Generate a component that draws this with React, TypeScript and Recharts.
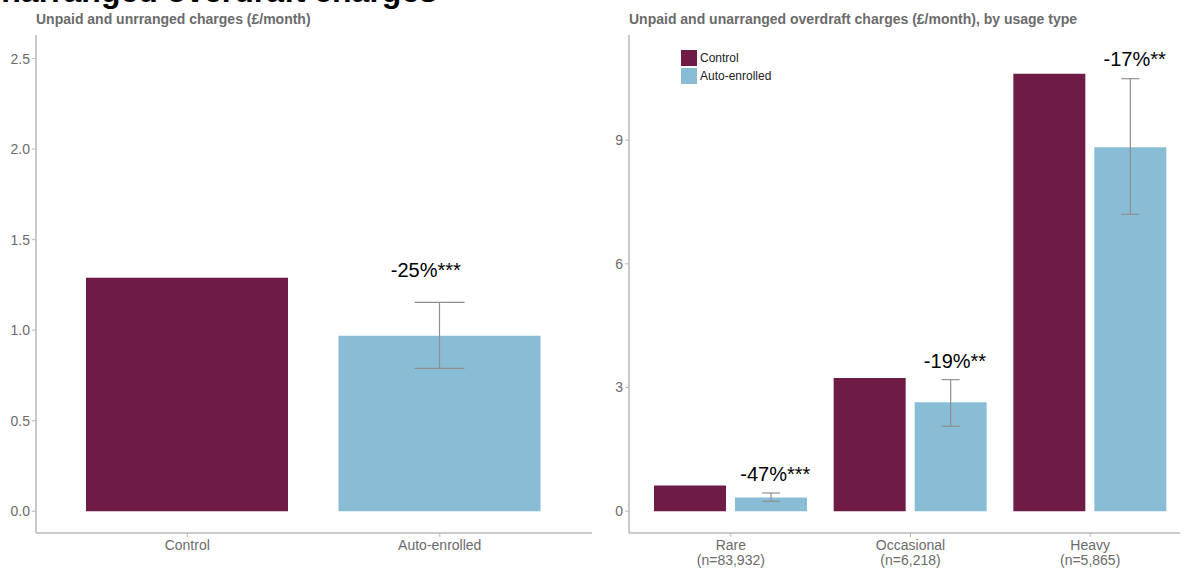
import React from "react";
import { BarChart, Bar, XAxis, YAxis, ErrorBar, Cell, ReferenceDot } from "recharts";

const FONT = '"Liberation Sans", Arial, sans-serif';
const CONTROL = "#6e1b45";
const AUTO = "#89bdd6";
const AXIS = "#b8b8b8";
const TICK_TEXT = "#6b6b6b";
const ERR = "#8f8f8f";

// left panel: all accounts
const groups = ["Control", "Auto-enrolled"];
const groupColors = [CONTROL, AUTO];
const groupCharges = [1.29, 0.969];
const groupLow = [null, 0.789];
const groupHigh = [null, 1.153];
const groupEffect = "-25%***";
const groupEffectY = 1.335;
const leftTicks = [0, 0.5, 1, 1.5, 2, 2.5];

// right panel: by usage type
const usage = ["Rare", "Occasional", "Heavy"];
const usageN = ["(n=83,932)", "(n=6,218)", "(n=5,865)"];
const controlCharges = [0.62, 3.23, 10.61];
const autoCharges = [0.33, 2.64, 8.83];
const autoLow = [0.24, 2.06, 7.2];
const autoHigh = [0.44, 3.19, 10.49];
const usageEffect = ["-47%***", "-19%**", "-17%**"];
const usageEffectY = [0.89, 3.65, 10.96];
const rightTicks = [0, 3, 6, 9];

const leftData = groups.map((g, i) => ({
  name: g,
  value: groupCharges[i],
  err:
    groupLow[i] == null
      ? undefined
      : [groupCharges[i] - (groupLow[i] as number), (groupHigh[i] as number) - groupCharges[i]],
}));

const rightData = usage.map((u, i) => ({
  name: u,
  control: controlCharges[i],
  auto: autoCharges[i],
  err: [autoCharges[i] - autoLow[i], autoHigh[i] - autoCharges[i]],
}));

const tickStyle = { fontSize: 14, fill: TICK_TEXT, fontFamily: FONT };

function GroupTick(props: any) {
  const { x, y, payload } = props;
  return (
    <text x={x} y={y} dy={11} textAnchor="middle" {...tickStyle}>
      {payload.value}
    </text>
  );
}

function UsageTick(props: any) {
  const { x, y, payload } = props;
  const i = usage.indexOf(payload.value);
  return (
    <g>
      <text x={x} y={y} dy={11} textAnchor="middle" {...tickStyle}>
        {payload.value}
      </text>
      <text x={x} y={y} dy={26} textAnchor="middle" {...tickStyle}>
        {usageN[i]}
      </text>
    </g>
  );
}

const effectText = (text: string, dx: number) => (p: any) => (
  <text
    x={p.cx + dx}
    y={p.cy}
    dy="0.35em"
    textAnchor="middle"
    fontSize={20}
    fontFamily={FONT}
    fill="#000"
  >
    {text}
  </text>
);

export default function App() {
  return (
    <div
      style={{
        position: "absolute",
        left: 0,
        top: 0,
        width: 1189,
        height: 568,
        background: "#fff",
        overflow: "hidden",
        fontFamily: FONT,
      }}
    >
      <div style={{ position: "absolute", left: 0, top: 0 }}>
        <BarChart
          width={600}
          height={568}
          data={leftData}
          margin={{ top: 35, right: 8, bottom: 0, left: 0 }}
        >
          <XAxis
            dataKey="name"
            height={35}
            padding={{ left: 25, right: 26 }}
            axisLine={{ stroke: AXIS, strokeWidth: 1.5 }}
            tickLine={{ stroke: AXIS }}
            tickSize={4}
            tick={<GroupTick />}
          />
          <YAxis
            width={36}
            type="number"
            domain={[-0.12, 2.63]}
            allowDataOverflow
            ticks={leftTicks}
            tickFormatter={(v: number) => v.toFixed(1)}
            axisLine={{ stroke: AXIS, strokeWidth: 1.5 }}
            tickLine={{ stroke: AXIS }}
            tickSize={4}
            tick={tickStyle}
          />
          <Bar dataKey="value" barSize={202} isAnimationActive={false}>
            {leftData.map((d, i) => (
              <Cell key={d.name} fill={groupColors[i]} />
            ))}
            <ErrorBar dataKey="err" width={25} stroke={ERR} strokeWidth={1.2} />
          </Bar>
          <ReferenceDot
            x="Auto-enrolled"
            y={groupEffectY}
            r={1}
            shape={effectText(groupEffect, -14)}
          />
        </BarChart>
      </div>

      <div style={{ position: "absolute", left: 593, top: 0 }}>
        <BarChart
          width={596}
          height={568}
          data={rightData}
          barGap={9}
          margin={{ top: 35, right: 9, bottom: 0, left: 0 }}
        >
          <XAxis
            dataKey="name"
            height={35}
            padding={{ left: 12, right: 0 }}
            axisLine={{ stroke: AXIS, strokeWidth: 1.5 }}
            tickLine={{ stroke: AXIS }}
            tickSize={4}
            tick={<UsageTick />}
            interval={0}
          />
          <YAxis
            width={36}
            type="number"
            domain={[-0.53, 11.55]}
            allowDataOverflow
            ticks={rightTicks}
            axisLine={{ stroke: AXIS, strokeWidth: 1.5 }}
            tickLine={{ stroke: AXIS }}
            tickSize={4}
            tick={tickStyle}
          />
          <Bar dataKey="control" name="Control" fill={CONTROL} barSize={72} isAnimationActive={false} />
          <Bar dataKey="auto" name="Auto-enrolled" fill={AUTO} barSize={72} isAnimationActive={false}>
            <ErrorBar dataKey="err" width={9} stroke={ERR} strokeWidth={1.2} />
          </Bar>
          {usage.map((u, i) => (
            <ReferenceDot
              key={u}
              x={u}
              y={usageEffectY[i]}
              r={1}
              shape={effectText(usageEffect[i], 44.5)}
            />
          ))}
        </BarChart>
      </div>

      {/* legend for the right panel */}
      <div
        style={{
          position: "absolute",
          left: 681,
          top: 49,
          fontSize: 12,
          color: "#222",
          lineHeight: "16px",
        }}
      >
        {[
          { label: "Control", color: CONTROL },
          { label: "Auto-enrolled", color: AUTO },
        ].map((item) => (
          <div key={item.label} style={{ display: "flex", alignItems: "center", height: 17, marginBottom: 1 }}>
            <span style={{ width: 16, height: 16, background: item.color, marginRight: 3, display: "inline-block" }} />
            <span>{item.label}</span>
          </div>
        ))}
      </div>

      <svg
        width={1189}
        height={568}
        style={{ position: "absolute", left: 0, top: 0, pointerEvents: "none" }}
      >
        <text x={437} y={2} textAnchor="end" fontSize={32} fontWeight="bold" fontFamily={FONT} fill="#000">
          Unpaid and unarranged overdraft charges
        </text>
        <text x={36} y={24} fontSize={14} fontWeight="bold" fontFamily={FONT} fill="#6b6b6b">
          Unpaid and unrranged charges (£/month)
        </text>
        <text x={629} y={24} fontSize={14} fontWeight="bold" fontFamily={FONT} fill="#6b6b6b">
          Unpaid and unarranged overdraft charges (£/month), by usage type
        </text>
      </svg>
    </div>
  );
}
